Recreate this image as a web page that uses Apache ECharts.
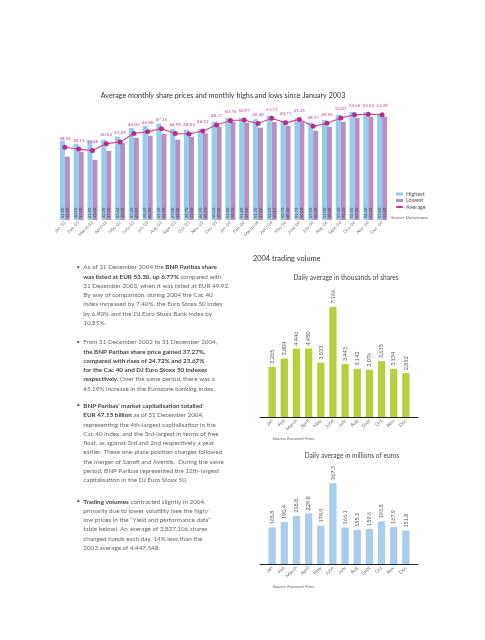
<!DOCTYPE html>
<html><head><meta charset="utf-8">
<script src="https://cdn.jsdelivr.net/npm/echarts@6/dist/echarts.min.js"></script>
<style>html,body{margin:0;padding:0;background:#fff}#c{width:485px;height:640px}</style>
</head><body><div id="c"></div>
<script>
// ---- data ----
const months = ['Jan. 03','Feb. 03','March 03','April 03','May 03','June 03','July 03','Aug. 03','Sept. 03','Oct. 03','Nov. 03','Dec. 03',
  'Jan. 04','Feb. 04','March 04','April 04','May 04','June 04','July 04','Aug. 04','Sept. 04','Oct. 04','Nov. 04','Dec. 04'];
const highest = [41.8,40.5,41.8,42.3,43.6,47.4,48.4,49.3,47.0,46.7,46.9,50.2,51.8,51.8,51.3,52.9,50.7,51.7,49.9,51.0,53.3,54.5,54.4,53.6];
const lowest  = [34.8,37.0,33.4,37.3,40.9,43.1,44.0,44.9,42.3,43.6,45.1,48.0,50.2,49.8,47.6,50.1,48.4,50.1,46.2,48.0,50.2,52.0,52.4,52.4];
const average = [38.92,38.11,37.48,40.52,41.29,45.03,45.80,47.15,44.99,44.83,46.12,48.77,50.75,50.97,49.40,51.73,49.71,51.21,48.17,49.55,51.87,53.26,53.52,53.29];
const volMonths = ['Jan','Feb','March','April','May','June','July','Aug','Sept','Oct','Nov','Dec'];
const volumeThousands = [3265,3804,4446,4450,3533,7166,3443,3142,3076,3635,3134,2852];
const volumeEuros = [165.8,190.4,218.8,229.8,174.9,367.3,166.1,155.3,159.6,193.5,167.9,151.8];

const mainTitle = 'Average monthly share prices and monthly highs and lows since January 2003';
const volTitle = '2004 trading volume';
const sub1 = 'Daily average in thousands of shares';
const sub2 = 'Daily average in millions of euros';
const src1 = 'Source: Datastream';
const src2 = 'Source: Euronext Paris.';
const paragraphs = [
  ['As of 31 December 2004 the {b|BNP Paribas share}',
   '{b|was listed at EUR 53.30, up 6.77%} compared with',
   '31 December 2003, when it was listed at EUR 49.92.',
   'By way of comparison, during 2004 the Cac 40',
   'index increased by 7.40%, the Euro Stoxx 50 index',
   'by 6.90% and the DJ Euro Stoxx Bank index by',
   '10.85%.'],
  ['From 31 December 2002 to 31 December 2004,',
   '{b|the BNP Paribas share price gained 37.27%,}',
   '{b|compared with rises of 24.72% and 23.67%}',
   '{b|for the Cac 40 and DJ Euro Stoxx 50 indexes}',
   '{b|respectively.} Over the same period, there was a',
   '45.19% increase in the Eurozone banking index.'],
  ['{b|BNP Paribas\u2019 market capitalisation totalled}',
   '{b|EUR 47.15 billion} as of 31 December 2004,',
   'representing the 4th-largest capitalisation in the',
   'Cac 40 index, and the 3rd-largest in terms of free',
   'float, as against 3rd and 2nd respectively a year',
   'earlier. These one-place position changes followed',
   'the merger of Sanofi and Aventis.  During the same',
   'period, BNP Paribas represented the 12th-largest',
   'capitalisation in the DJ Euro Stoxx 50.'],
  ['{b|Trading volumes} contracted slightly in 2004,',
   'primarily due to lower volatility (see the high/',
   'low prices in the \u201cYield and performance data\u201d',
   'table below). An average of 3,827,106 shares',
   'changed hands each day, 14% less than the',
   '2003 average of 4,447,548.']
];

// ---- layout ----
const FONT = 'Lato, "Open Sans", sans-serif';
const paraTop = [267.3, 342.3, 406, 501.7];
const lineH = 9.25;
const graphics = [];
paragraphs.forEach((lines, p) => {
  graphics.push({type:'text', left:76.5, top: paraTop[p]-3.6, style:{text:'\u2022', font:'6px '+FONT, fill:'#555'}});
  lines.forEach((ln, i) => {
    graphics.push({type:'text', x:83.3, y: paraTop[p] + i*lineH,
      style:{text: ln, fontFamily: FONT, fontSize:6.3, fill:'#666', verticalAlign:'middle',
        rich:{b:{fontFamily:FONT, fontSize:6.3, fontWeight:'bold', fill:'#444'}}}});
  });
});
graphics.push({type:'text', x:223, y:96, style:{text:mainTitle, fontFamily:FONT, fontSize:7.2, fill:'#333', align:'center', verticalAlign:'middle'}});
graphics.push({type:'text', x:253, y:259, style:{text:volTitle, fontFamily:FONT, fontSize:7.4, fill:'#333', verticalAlign:'middle'}});
graphics.push({type:'text', x:346, y:278, style:{text:sub1, fontFamily:FONT, fontSize:6.6, fill:'#444', align:'center', verticalAlign:'middle'}});
graphics.push({type:'text', x:352, y:456, style:{text:sub2, fontFamily:FONT, fontSize:6.6, fill:'#444', align:'center', verticalAlign:'middle'}});
graphics.push({type:'text', x:391, y:218, style:{text:src1, fontFamily:FONT, fontSize:4.5, fontStyle:'italic', fill:'#666', verticalAlign:'middle'}});
graphics.push({type:'text', x:272.5, y:439, style:{text:src2, fontFamily:FONT, fontSize:4.5, fontStyle:'italic', fill:'#666', verticalAlign:'middle'}});
graphics.push({type:'text', x:272.5, y:587, style:{text:src2, fontFamily:FONT, fontSize:4.5, fontStyle:'italic', fill:'#666', verticalAlign:'middle'}});

const rotLabel = (pos, size, color, fmt, dist) => ({show:true, position:pos, rotate:90, align:'left', verticalAlign:'middle',
  fontSize:size, color:color, fontFamily:FONT, distance:dist, formatter:fmt});

const volAxis = (g) => ({type:'value', gridIndex:g, min:-1, max:12, interval:1,
  splitLine:{show:false}, axisTick:{show:false},
  axisLine:{show:true, onZero:true, lineStyle:{color:'#222', width:1}},
  axisLabel:{rotate:45, fontSize:5, color:'#777', fontFamily:FONT, margin:3,
    formatter: v => (volMonths[v] !== undefined ? volMonths[v] : '')}});

const option = {
  animation:false,
  backgroundColor:'#fff',
  textStyle:{fontFamily:FONT},
  grid:[
    {left:58, top:100, width:331, height:120},
    {left:260, top:294, width:158, height:123},
    {left:260, top:476, width:158, height:88}
  ],
  xAxis:[
    {type:'category', gridIndex:0, data:months, axisLine:{show:false}, axisTick:{show:false},
     axisLabel:{rotate:45, fontSize:4.5, color:'#777', margin:2, interval:0, fontFamily:FONT}},
    volAxis(1), volAxis(2)
  ],
  yAxis:[
    {type:'value', gridIndex:0, min:6.8, max:59.8, show:false},
    {type:'value', gridIndex:1, min:0, max:8000, show:false},
    {type:'value', gridIndex:2, min:0, max:400, show:false}
  ],
  legend:{
    data:[{name:'Highest', icon:'rect'},{name:'Lowest', icon:'rect'},'Average'],
    orient:'vertical', left:390, top:186, itemWidth:7, itemHeight:3, itemGap:0.5,
    textStyle:{fontSize:5.5, color:'#555', lineHeight:6, fontFamily:FONT, padding:[0,0,0,-2]}
  },
  series:[
    {name:'Highest', type:'bar', xAxisIndex:0, yAxisIndex:0, data:highest, barWidth:5, barGap:'0%',
     itemStyle:{color:'#93cdec'}, label: rotLabel('insideBottom', 4, '#444', p => p.value.toFixed(2), 2)},
    {name:'Lowest', type:'bar', xAxisIndex:0, yAxisIndex:0, data:lowest, barWidth:5, barGap:'0%',
     itemStyle:{color:'#b690c4'}, label: rotLabel('insideBottom', 4, '#444', p => p.value.toFixed(2), 2)},
    {name:'Average', type:'line', xAxisIndex:0, yAxisIndex:0, data:average, z:5,
     symbol:'circle', symbolSize:5, itemStyle:{color:'#b92d86'}, lineStyle:{color:'#cf4c9a', width:1.2},
     label:{show:true, position:'top', distance:4, fontSize:4.5, color:'#c23a8c', fontFamily:FONT, formatter:p => p.value.toFixed(2)}},
    {name:'vol', type:'bar', xAxisIndex:1, yAxisIndex:1, data: volumeThousands.map((v,i)=>[i,v]), barWidth:7.3,
     itemStyle:{color:'#b7cf3f'}, label: rotLabel('top', 5.5, '#555', p => p.value[1].toLocaleString('en-US'), 3)},
    {name:'eur', type:'bar', xAxisIndex:2, yAxisIndex:2, data: volumeEuros.map((v,i)=>[i,v]), barWidth:7.3,
     itemStyle:{color:'#a9cdeb'}, label: rotLabel('top', 5.5, '#555', p => p.value[1].toFixed(1), 3)}
  ],
  graphic: graphics
};
const chart = echarts.init(document.getElementById('c'), null, {renderer:'canvas'});
chart.setOption(option);
</script>
</body></html>
